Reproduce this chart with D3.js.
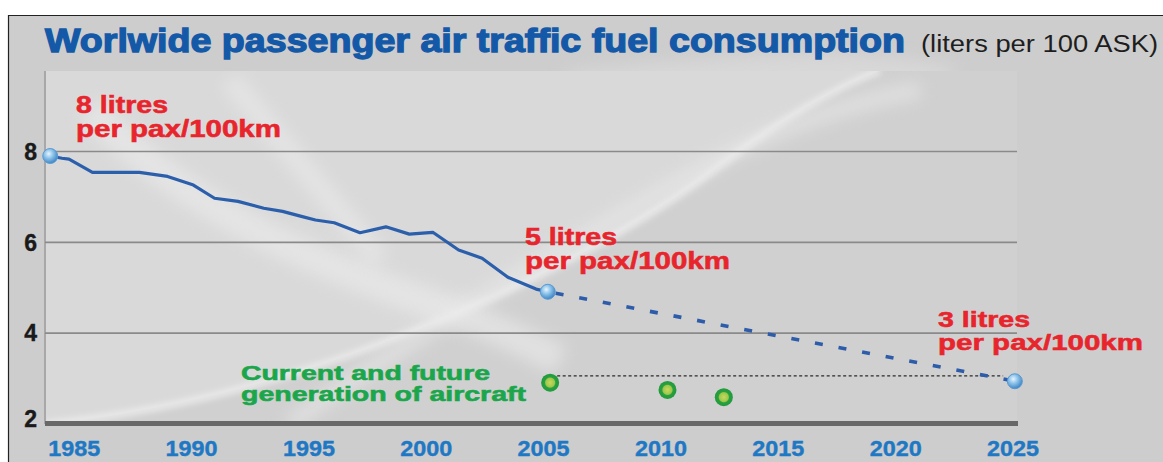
<!DOCTYPE html>
<html><head><meta charset="utf-8">
<script src="https://cdn.jsdelivr.net/npm/d3@7"></script>
<style>
html,body{margin:0;padding:0;background:#fff;}
svg{display:block;}
text{font-family:"Liberation Sans",Arial,sans-serif;}
</style></head>
<body>
<svg id="chart" width="1163" height="462"></svg>
<script>
// ---- data ----
const histYears  = [1984.0,1984.5,1984.8,1985.8,1987.8,1989.0,1990.1,1991.0,1992.0,1993.1,1993.9,1994.7,1995.3,1996.1,1997.2,1998.3,1999.3,2000.3,2001.4,2002.4,2003.5,2004.7,2005.2];
const histValues = [7.89,7.84,7.82,7.53,7.53,7.44,7.25,6.96,6.89,6.74,6.67,6.56,6.48,6.42,6.20,6.33,6.17,6.21,5.82,5.64,5.22,4.96,4.90];
const projYears  = [2005.2, 2025.1];
const projValues = [4.90, 2.93];
const markerYears  = [1984.0, 2005.2, 2025.1];
const markerValues = [7.89, 4.90, 2.93];
const aircraftYears  = [2005.3, 2010.3, 2012.7];
const aircraftValues = [2.90, 2.74, 2.58];
const targetYears = [2005.6, 2024.6];
const targetValue = 3.05;
const xTicks = [1985,1990,1995,2000,2005,2010,2015,2020,2025];
const yTicks = [2,4,6,8];
const titleMain = "Worlwide passenger air traffic fuel consumption";
const titleUnit = "(liters per 100 ASK)";
const noteLines = [["8 litres","per pax/100km"],["5 litres","per pax/100km"],["3 litres","per pax/100km"]];
const aircraftNote = ["Current and future","generation of aircraft"];

// ---- chart ----
const svg = d3.select("#chart");
const W = 1163, H = 462;
const plot = {left:45, right:1017, top:71, bottom:424};
const x = d3.scaleLinear().domain([1985,2025]).range([73.7,1012.5]);
const y = d3.scaleLinear().domain([2,8]).range([423.5,151]);

const defs = svg.append("defs");
const blur = defs.append("filter").attr("id","blur").attr("x","-20%").attr("y","-20%").attr("width","140%").attr("height","140%");
blur.append("feGaussianBlur").attr("stdDeviation",8);
const blur2 = defs.append("filter").attr("id","blur2").attr("x","-20%").attr("y","-20%").attr("width","140%").attr("height","140%");
blur2.append("feGaussianBlur").attr("stdDeviation",3);
const mg = defs.append("radialGradient").attr("id","mk").attr("cx","40%").attr("cy","35%").attr("r","65%");
mg.append("stop").attr("offset","0%").attr("stop-color","#e8f4fc");
mg.append("stop").attr("offset","45%").attr("stop-color","#8ec4ea");
mg.append("stop").attr("offset","100%").attr("stop-color","#3f86c6");
const gg = defs.append("radialGradient").attr("id","gd").attr("cx","50%").attr("cy","50%").attr("r","50%");
gg.append("stop").attr("offset","0%").attr("stop-color","#c8d860");
gg.append("stop").attr("offset","50%").attr("stop-color","#9cc84a");
gg.append("stop").attr("offset","62%").attr("stop-color","#2aa040");
gg.append("stop").attr("offset","100%").attr("stop-color","#1f9a3a");
const tl = defs.append("linearGradient").attr("id","topline").attr("x1","0").attr("x2","1").attr("y1","0").attr("y2","0");
tl.append("stop").attr("offset","0%").attr("stop-color","#7a7a7a");
tl.append("stop").attr("offset","85%").attr("stop-color","#7a7a7a");
tl.append("stop").attr("offset","100%").attr("stop-color","#7a7a7a").attr("stop-opacity",0);
const clip = defs.append("clipPath").attr("id","pclip");
clip.append("rect").attr("x",plot.left).attr("y",plot.top).attr("width",plot.right-plot.left).attr("height",plot.bottom-plot.top);

// panel background
svg.append("rect").attr("x",8).attr("y",15).attr("width",W-8).attr("height",H-15).attr("fill","#cdcdcd");
svg.append("path").attr("d","M8,15.5H1163M8.5,15V462").attr("stroke","#222").attr("stroke-width",1.2).attr("fill","none");
svg.append("path").attr("d","M560,72 C700,60 860,40 960,70 C900,120 820,170 760,200 Z").attr("fill","#e2e2e2").attr("opacity",0.5).attr("filter","url(#blur)");

// plot area
svg.append("rect").attr("x",plot.left).attr("y",plot.top).attr("width",plot.right-plot.left).attr("height",plot.bottom-plot.top).attr("fill","#d0d0d0");
const bg = svg.append("g").attr("clip-path","url(#pclip)");
bg.append("path").attr("d","M45,424 C300,400 560,280 700,180 C780,120 840,85 880,71 L45,71 Z").attr("fill","#d9d9d9");
bg.append("path").attr("d","M45,424 C300,400 560,280 700,180 C780,120 840,85 880,71").attr("fill","none").attr("stroke","#ececec").attr("stroke-width",6).attr("filter","url(#blur2)");
bg.append("path").attr("d","M90,110 C180,200 280,250 420,300 C480,320 520,340 560,360").attr("fill","none").attr("stroke","#ececec").attr("stroke-width",30).attr("opacity",0.6).attr("filter","url(#blur)");
bg.append("path").attr("d","M230,80 C280,140 330,200 380,260").attr("fill","none").attr("stroke","#eeeeee").attr("stroke-width",22).attr("opacity",0.5).attr("filter","url(#blur)");
bg.append("path").attr("d","M290,424 C420,330 560,250 700,170 C780,125 860,100 920,90").attr("fill","none").attr("stroke","#eaeaea").attr("stroke-width",16).attr("opacity",0.6).attr("filter","url(#blur)");
svg.append("line").attr("x1",plot.left).attr("x2",plot.left).attr("y1",plot.top).attr("y2",plot.bottom).attr("stroke","#a8a8a8").attr("stroke-width",2);
svg.append("line").attr("x1",plot.left).attr("x2",910).attr("y1",plot.top).attr("y2",plot.top).attr("stroke","url(#topline)").attr("stroke-width",2.5);

// gridlines via axis
const grid = svg.append("g").attr("transform",`translate(${plot.left},0)`)
  .call(d3.axisLeft(y).tickValues(yTicks.filter(d=>d!==2)).tickSize(-(plot.right-plot.left)).tickFormat(""));
grid.select(".domain").remove();
grid.selectAll("line").attr("stroke","#8a8a8a").attr("stroke-width",1.6);
svg.append("line").attr("x1",plot.left).attr("x2",1018).attr("y1",y(2)).attr("y2",y(2)).attr("stroke","#686868").attr("stroke-width",5);

// y labels
const yAx = svg.append("g").attr("transform","translate(37,0)")
  .call(d3.axisLeft(y).tickValues(yTicks).tickSize(0).tickPadding(0).tickFormat(d3.format("d")));
yAx.select(".domain").remove();
yAx.selectAll("text").attr("font-family","Liberation Sans, Arial, sans-serif").attr("font-size",23).attr("font-weight","bold").attr("fill","#1a1a1a").attr("dy","0.36em")
  .attr("stroke","#1a1a1a").attr("stroke-width",0.4)
  .attr("transform",d=> d===2 ? "translate(0,-5)" : null);

// x labels
const xAx = svg.append("g").attr("transform","translate(0,441)")
  .call(d3.axisBottom(x).tickValues(xTicks).tickSize(0).tickPadding(0).tickFormat(d3.format("d")));
xAx.select(".domain").remove();
xAx.selectAll("text").attr("font-family","Liberation Sans, Arial, sans-serif").attr("font-size",21.5).attr("font-weight","bold").attr("fill","#1f78c4").attr("dy","0.72em")
  .attr("stroke","#1f78c4").attr("stroke-width",0.4)
  .attr("textLength",52).attr("lengthAdjust","spacingAndGlyphs");

// target dotted line
svg.append("line").attr("x1",x(targetYears[0])).attr("x2",x(targetYears[1]))
  .attr("y1",y(targetValue)).attr("y2",y(targetValue))
  .attr("stroke","#2a2a2a").attr("stroke-width",1.3).attr("stroke-dasharray","3,2.5");

// historical line
const line = d3.line().x(d=>x(d[0])).y(d=>y(d[1]));
svg.append("path").datum(d3.zip(histYears,histValues)).attr("d",line)
  .attr("fill","none").attr("stroke","#2b5fab").attr("stroke-width",3.2).attr("stroke-linejoin","round");
svg.append("path").datum(d3.zip(projYears,projValues)).attr("d",line)
  .attr("fill","none").attr("stroke","#2d5caa").attr("stroke-width",3.6).attr("stroke-dasharray","8,16").attr("stroke-dashoffset",-8);

// markers
svg.selectAll(".mk").data(d3.zip(markerYears,markerValues)).join("circle").attr("class","mk")
  .attr("cx",d=>x(d[0])).attr("cy",d=>y(d[1])).attr("r",7.5)
  .attr("fill","url(#mk)").attr("stroke","#5a9ad2").attr("stroke-width",1);

// aircraft dots
svg.selectAll(".ac").data(d3.zip(aircraftYears,aircraftValues)).join("circle").attr("class","ac")
  .attr("cx",d=>x(d[0])).attr("cy",d=>y(d[1])).attr("r",9)
  .attr("fill","url(#gd)");

// red notes: one text element per note, two tspans
const notePos = [{x:76,y:113,dy:24,fs:23},{x:525,y:245,dy:23.5,fs:23},{x:938,y:327,dy:23,fs:22.3}];
noteLines.forEach((lines,k)=>{
  const p = notePos[k];
  const t = svg.append("text").attr("x",p.x).attr("y",p.y).attr("fill","#e8242c")
    .attr("stroke","#e8242c").attr("stroke-width",0.55)
    .attr("font-size",p.fs).attr("font-weight","bold");
  lines.forEach((l,i)=>{
    t.append("tspan").attr("x",p.x).attr("y",p.y+i*p.dy)
      .attr("textLength", i ? 205 : 92).attr("lengthAdjust","spacingAndGlyphs").text(l);
  });
});
// green note
const gt = svg.append("text").attr("x",241).attr("y",380).attr("fill","#1ca64c")
  .attr("stroke","#1ca64c").attr("stroke-width",0.6)
  .attr("font-size",20.5).attr("font-weight","bold");
aircraftNote.forEach((l,i)=>{
  gt.append("tspan").attr("x",241).attr("y",380+i*21)
    .attr("textLength", i ? 285 : 249).attr("lengthAdjust","spacingAndGlyphs").text(l);
});

// title
svg.append("text").attr("x",45).attr("y",52).attr("fill","#1459a8").attr("font-size",33).attr("font-weight","bold")
  .attr("stroke","#1459a8").attr("stroke-width",1.3)
  .attr("textLength",860).attr("lengthAdjust","spacingAndGlyphs").text(titleMain);
svg.append("text").attr("x",921).attr("y",52).attr("fill","#1e1e1e").attr("font-size",23)
  .attr("textLength",237).attr("lengthAdjust","spacingAndGlyphs").text(titleUnit);
</script>
</body></html>
